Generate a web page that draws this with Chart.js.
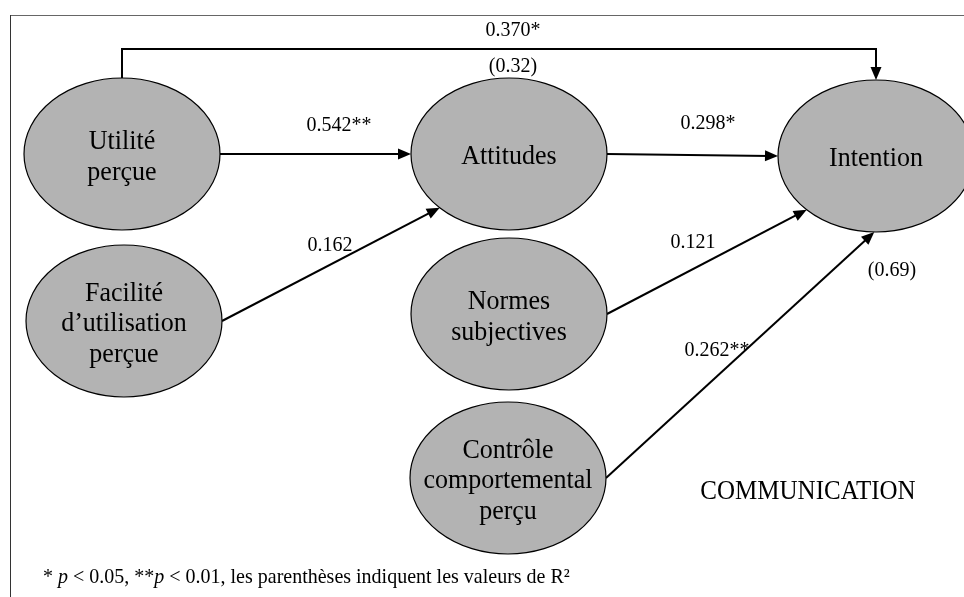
<!DOCTYPE html>
<html>
<head>
<meta charset="utf-8">
<script src="https://cdn.jsdelivr.net/npm/chart.js@4"></script>
<style>
  body { margin: 0; background: #fff; }
</style>
</head>
<body>
<canvas id="diagramme" width="964" height="597"></canvas>
<script>
// ================= DONNEES =================
const noeuds = ["Utilité\nperçue", "Facilité\nd’utilisation\nperçue", "Attitudes",
                "Normes\nsubjectives", "Contrôle\ncomportemental\nperçu", "Intention"];
// relations : source -> cible, avec coefficient
const relSource = [0, 1, 2, 3, 4, 0];
const relCible  = [2, 2, 5, 5, 5, 5];
const coefficients = ["0.542**", "0.162", "0.298*", "0.121", "0.262**", "0.370*"];
// R² affichés près des variables dépendantes
const r2Noeuds  = [2, 5];
const r2Valeurs = ["(0.32)", "(0.69)"];
const titreModele = "COMMUNICATION";

// ================= MISE EN PAGE (unités du repère) =================
const noeudX = [122, 124, 509, 509, 508, 876];
const noeudY = [154, 321, 154, 314, 478, 156];
const RX = 98, RY = 76;
const angSource = [0, 0, 0, 0, 0, 270];     // angle d'ancrage sur l'ellipse source
const angCible  = [180, 135, 180, 135, 91, 270];
const coudeY    = [null, null, null, null, null, 49];
const etiqX = [339, 330, 708, 693, 717, 513];
const etiqY = [125, 245, 123, 242, 350, 30];
const r2X = [513, 892];
const r2Y = [66, 270];

const FONTE = "'Liberation Serif', 'Times New Roman', serif";
const ETIREMENT = 1.07; // le texte de la figure d'origine est un peu étiré en hauteur

// ================= FONCTIONS UTILES =================
function pointAncre(i, angle) {
  const t = angle * Math.PI / 180;
  return { x: noeudX[i] + RX * Math.cos(t), y: noeudY[i] + RY * Math.sin(t) };
}

function construireRelation(k) {
  const a = pointAncre(relSource[k], angSource[k]);
  const b = pointAncre(relCible[k], angCible[k]);
  let pts = [a];
  if (coudeY[k] !== null) {
    pts.push({ x: a.x, y: coudeY[k] }, { x: b.x, y: coudeY[k] });
  }
  const prec = pts[pts.length - 1];
  const d = Math.hypot(b.x - prec.x, b.y - prec.y);
  // la ligne s'arrête sous la pointe de la flèche
  pts.push({ x: b.x - (b.x - prec.x) / d * 8, y: b.y - (b.y - prec.y) / d * 8 });
  return {
    type: "scatter",
    data: pts,
    showLine: true,
    borderColor: "#000",
    borderWidth: 2,
    pointRadius: 0,
    pointHoverRadius: 0,
    pointe: b,
    depart: prec
  };
}

function texte(ctx, t, x, y) {
  ctx.save();
  ctx.translate(x, y);
  ctx.scale(1, ETIREMENT);
  ctx.fillText(t, 0, 0);
  ctx.restore();
}

// ================= PLUGINS DE DESSIN =================
const cadre = {
  id: "cadre",
  beforeDatasetsDraw(chart) {
    const ctx = chart.ctx;
    ctx.save();
    ctx.lineWidth = 1;
    ctx.strokeStyle = "#666";
    ctx.beginPath();
    ctx.moveTo(10, 15.5); ctx.lineTo(964, 15.5);
    ctx.stroke();
    ctx.strokeStyle = "#333";
    ctx.beginPath();
    ctx.moveTo(10.5, 15); ctx.lineTo(10.5, 597);
    ctx.stroke();
    ctx.restore();
  }
};

const schema = {
  id: "schema",
  afterDatasetsDraw(chart) {
    const ctx = chart.ctx;
    const sx = chart.scales.x, sy = chart.scales.y;
    ctx.save();

    // pointes de flèches
    chart.data.datasets.forEach(ds => {
      if (!ds.pointe) return;
      const px = sx.getPixelForValue(ds.pointe.x), py = sy.getPixelForValue(ds.pointe.y);
      const qx = sx.getPixelForValue(ds.depart.x), qy = sy.getPixelForValue(ds.depart.y);
      const ang = Math.atan2(py - qy, px - qx);
      ctx.fillStyle = "#000";
      ctx.beginPath();
      ctx.moveTo(px, py);
      ctx.lineTo(px - 13 * Math.cos(ang) + 5.5 * Math.sin(ang), py - 13 * Math.sin(ang) - 5.5 * Math.cos(ang));
      ctx.lineTo(px - 13 * Math.cos(ang) - 5.5 * Math.sin(ang), py - 13 * Math.sin(ang) + 5.5 * Math.cos(ang));
      ctx.closePath();
      ctx.fill();
    });

    // ellipses et libellés des variables
    noeuds.forEach((nom, i) => {
      const cx = sx.getPixelForValue(noeudX[i]), cy = sy.getPixelForValue(noeudY[i]);
      const rx = sx.getPixelForValue(noeudX[i] + RX) - cx;
      const ry = sy.getPixelForValue(noeudY[i] + RY) - cy;
      ctx.beginPath();
      ctx.ellipse(cx, cy, rx, ry, 0, 0, Math.PI * 2);
      ctx.fillStyle = "#b3b3b3";
      ctx.fill();
      ctx.lineWidth = 1.2;
      ctx.strokeStyle = "#000";
      ctx.stroke();

      const lignes = nom.split("\n");
      ctx.fillStyle = "#000";
      ctx.font = "26px " + FONTE;
      ctx.textAlign = "center";
      ctx.textBaseline = "middle";
      const h = 30.5;
      lignes.forEach((l, j) => {
        texte(ctx, l, cx, cy + 3 + (j - (lignes.length - 1) / 2) * h);
      });
    });

    // coefficients
    ctx.font = "20px " + FONTE;
    ctx.fillStyle = "#000";
    ctx.textAlign = "center";
    ctx.textBaseline = "middle";
    coefficients.forEach((c, k) => {
      texte(ctx, c, sx.getPixelForValue(etiqX[k]), sy.getPixelForValue(etiqY[k]));
    });
    r2Valeurs.forEach((v, k) => {
      texte(ctx, v, sx.getPixelForValue(r2X[k]), sy.getPixelForValue(r2Y[k]));
    });

    // nom du modèle
    ctx.font = "25px " + FONTE;
    texte(ctx, titreModele, sx.getPixelForValue(808), sy.getPixelForValue(492));

    // note de bas de figure
    const morceaux = [
      ["* ", false], ["p", true], [" < 0.05, **", false], ["p", true],
      [" < 0.01, les parenthèses indiquent les valeurs de R²", false]
    ];
    let x = sx.getPixelForValue(43);
    const y = sy.getPixelForValue(577);
    ctx.textAlign = "left";
    morceaux.forEach(([t, ital]) => {
      ctx.font = (ital ? "italic " : "") + "20px " + FONTE;
      texte(ctx, t, x, y);
      x += ctx.measureText(t).width;
    });

    ctx.restore();
  }
};

// ================= GRAPHIQUE =================
const relations = coefficients.map((c, k) => construireRelation(k));

new Chart(document.getElementById("diagramme").getContext("2d"), {
  type: "scatter",
  data: { datasets: relations },
  options: {
    responsive: false,
    animation: false,
    layout: { padding: 0 },
    plugins: { legend: { display: false }, tooltip: { enabled: false } },
    scales: {
      x: { type: "linear", min: 0, max: 964, display: false },
      y: { type: "linear", min: 0, max: 597, reverse: true, display: false }
    }
  },
  plugins: [cadre, schema]
});
</script>
</body>
</html>
